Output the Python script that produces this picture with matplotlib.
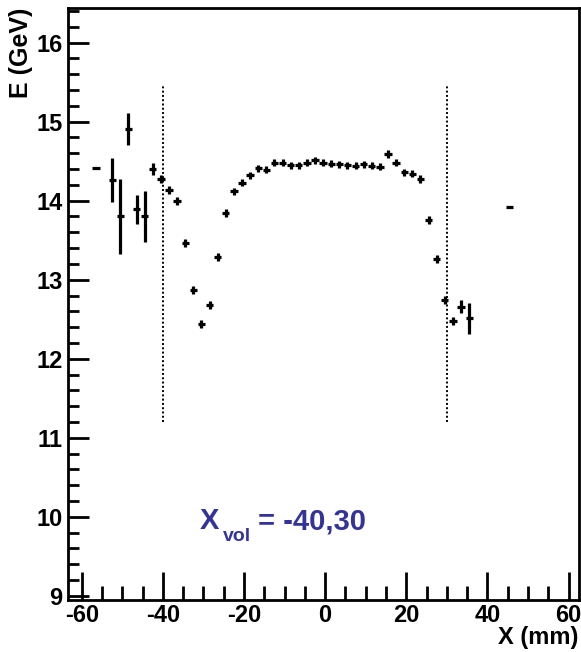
import matplotlib
matplotlib.use('Agg')
import matplotlib.pyplot as plt
from matplotlib.ticker import MultipleLocator

plt.rcParams['font.family'] = ['Liberation Sans', 'DejaVu Sans']
plt.rcParams['font.weight'] = 'bold'
plt.rcParams['axes.unicode_minus'] = False

# bin centres (mm) and mean energy (GeV)
x_pos = [-56.5, -52.5, -50.5, -48.5, -46.5, -44.5, -42.5, -40.5, -38.5, -36.5,
         -34.5, -32.5, -30.5, -28.5, -26.5, -24.5, -22.5, -20.5, -18.5, -16.5,
         -14.5, -12.5, -10.5, -8.5, -6.5, -4.5, -2.5, -0.5, 1.5, 3.5,
         5.5, 7.5, 9.5, 11.5, 13.5, 15.5, 17.5, 19.5, 21.5, 23.5,
         25.5, 27.5, 29.5, 31.5, 33.5, 35.5, 45.5]
energy = [14.41, 14.26, 13.80, 14.91, 13.89, 13.80, 14.40, 14.27, 14.13, 14.00,
          13.47, 12.87, 12.44, 12.68, 13.29, 13.84, 14.12, 14.23, 14.32, 14.41,
          14.39, 14.48, 14.48, 14.45, 14.45, 14.48, 14.51, 14.48, 14.47, 14.46,
          14.45, 14.44, 14.46, 14.44, 14.43, 14.59, 14.48, 14.36, 14.34, 14.28,
          13.75, 13.26, 12.74, 12.48, 12.66, 12.51, 13.92]
energy_err = [0.0, 0.28, 0.48, 0.20, 0.18, 0.32, 0.08, 0.05, 0.05, 0.05,
              0.05, 0.05, 0.05, 0.05, 0.05, 0.05, 0.045, 0.045, 0.045, 0.045,
              0.045, 0.045, 0.045, 0.045, 0.045, 0.045, 0.045, 0.045, 0.045, 0.045,
              0.045, 0.045, 0.045, 0.045, 0.045, 0.045, 0.045, 0.045, 0.045, 0.05,
              0.05, 0.05, 0.05, 0.05, 0.08, 0.20, 0.0]
bin_half = 0.9

vol_edges = [-40, 30]
vol_ymin, vol_ymax = 11.2, 15.45

fig = plt.figure(figsize=(5.81, 6.52), dpi=100)
ax = fig.add_axes([0.117, 0.08, 0.879, 0.908])

ax.errorbar(x_pos, energy, xerr=bin_half, yerr=energy_err, fmt='none',
            ecolor='black', elinewidth=2.3, capsize=0)

for xv in vol_edges:
    ax.plot([xv, xv], [vol_ymin, vol_ymax], color='black', ls=(0, (1, 1.2)), lw=1.4)

# X_vol label, built from three pieces like the ROOT latex
ax.text(-31, 9.84, 'X', color='#333399', fontsize=21, fontweight='bold')
ax.text(-25.2, 9.70, 'vol', color='#333399', fontsize=14, fontweight='bold')
ax.text(-16.5, 9.84, '= -40,30', color='#333399', fontsize=21, fontweight='bold')

ax.set_xlim(-63.4, 62.5)
ax.set_ylim(8.95, 16.44)
ax.xaxis.set_major_locator(MultipleLocator(20))
ax.xaxis.set_minor_locator(MultipleLocator(5))
ax.yaxis.set_major_locator(MultipleLocator(1))
ax.yaxis.set_minor_locator(MultipleLocator(0.2))
ax.tick_params(axis='both', which='both', direction='in', width=2, labelsize=17)
ax.tick_params(axis='x', which='major', length=20, pad=3)
ax.tick_params(axis='x', which='minor', length=10)
ax.tick_params(axis='y', which='major', length=15, pad=4)
ax.tick_params(axis='y', which='minor', length=8)
for sp in ax.spines.values():
    sp.set_linewidth(2)

ax.set_xlabel('X (mm)', fontsize=17, fontweight='bold', loc='right', labelpad=-1)
ax.set_ylabel('E (GeV)', fontsize=18, fontweight='bold', loc='top', labelpad=2)

fig.savefig('out.png', dpi=100)
